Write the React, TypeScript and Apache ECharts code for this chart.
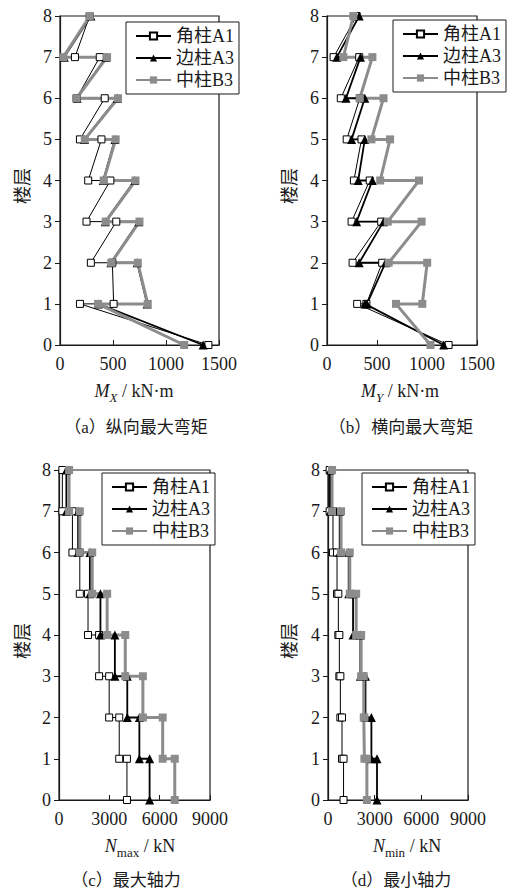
import React, { useEffect, useRef } from 'react';
import * as echarts from 'echarts';

// ---------- data ----------
const seriesNames = ['角柱A1', '边柱A3', '中柱B3'];
const floorTicks = [0, 1, 2, 3, 4, 5, 6, 7, 8];
const momentTicks = [0, 500, 1000, 1500];
const forceTicks = [0, 3000, 6000, 9000];

// moment polylines: floor of every point, in drawing order
const momentFloors = [8, 7, 7, 6, 6, 5, 5, 4, 4, 3, 3, 2, 2, 1, 1, 0];
// (a) M_X, kN·m
const mxA1 = [280, 141, 375, 156, 422, 188, 391, 266, 475, 250, 531, 291, 494, 506, 188, 1400];
const mxA3 = [292, 40, 436, 162, 540, 232, 518, 408, 706, 427, 744, 480, 728, 822, 362, 1350];
const mxB3 = [281, 31, 444, 156, 547, 234, 525, 412, 712, 431, 750, 484, 734, 828, 359, 1172];
// (b) M_Y, kN·m
const myA1 = [296, 66, 322, 138, 328, 197, 345, 269, 427, 246, 542, 256, 552, 394, 302, 1216];
const myA3 = [322, 99, 335, 190, 378, 246, 378, 312, 454, 296, 565, 322, 585, 400, 380, 1167];
const myB3 = [263, 164, 454, 328, 565, 444, 631, 532, 920, 608, 946, 617, 1002, 953, 690, 1035];

// axial force per storey (storey 8 down to storey 1), kN
const storeys = [8, 7, 6, 5, 4, 3, 2, 1];
const nmaxA1 = [200, 800, 1240, 1730, 2390, 2990, 3590, 4050];
const nmaxA3 = [440, 1140, 1840, 2470, 3330, 4070, 4790, 5400];
const nmaxB3 = [600, 1240, 1980, 2870, 3950, 5000, 6180, 6900];
const nminA1 = [105, 320, 580, 665, 730, 795, 900, 1000];
const nminA3 = [150, 750, 1330, 1610, 2080, 2410, 2790, 3150];
const nminB3 = [260, 840, 1400, 1810, 2130, 2300, 2340, 2500];

// ---------- helpers ----------
const SERIF = '"Liberation Serif", "Times New Roman", serif';
const MIX = '"Liberation Serif", "Noto Sans CJK SC", serif';
const CJK = '"Noto Sans CJK SC", sans-serif';
const GRAY = '#8c8c8c';
const INK = '#1a1a1a';

const momentPairs = (vals: number[]) => vals.map((v, i) => [v, momentFloors[i]]);
const stepPairs = (vals: number[]) => {
  const out: number[][] = [];
  vals.forEach((v, i) => {
    out.push([v, storeys[i]]);
    out.push([v, storeys[i] - 1]);
  });
  return out;
};

const styles = [
  {
    symbol: 'rect', symbolSize: 7,
    itemStyle: { color: '#fff', borderColor: '#000', borderWidth: 1 },
    lineStyle: { color: '#000', width: 1 },
  },
  {
    symbol: 'triangle', symbolSize: 9,
    itemStyle: { color: '#000' },
    lineStyle: { color: '#000', width: 1.8 },
  },
  {
    symbol: 'rect', symbolSize: 8,
    itemStyle: { color: GRAY },
    lineStyle: { color: GRAY, width: 3 },
  },
];

const panels = [
  { grid: { left: 60, top: 16, width: 159, height: 329 }, ticks: momentTicks, data: [mxA1, mxA3, mxB3].map(momentPairs), legend: { left: 126, top: 22 } },
  { grid: { left: 327, top: 16, width: 150, height: 329 }, ticks: momentTicks, data: [myA1, myA3, myB3].map(momentPairs), legend: { left: 393, top: 20 } },
  { grid: { left: 59, top: 470, width: 151, height: 330 }, ticks: forceTicks, data: [nmaxA1, nmaxA3, nmaxB3].map(stepPairs), legend: { left: 102, top: 473 } },
  { grid: { left: 328, top: 470, width: 140, height: 330 }, ticks: forceTicks, data: [nminA1, nminA3, nminB3].map(stepPairs), legend: { left: 362, top: 473 } },
];

const axisName = (x: number, y: number, main: string, sub: string, subItalic: boolean, unit: string) => ({
  type: 'text', x, y, silent: true,
  style: {
    text: `{i|${main}}{s|${sub}}{n| / ${unit}}`,
    align: 'center', verticalAlign: 'middle', fill: INK,
    fontSize: 18, fontFamily: SERIF,
    rich: {
      i: { fontFamily: SERIF, fontStyle: 'italic', fontSize: 18, lineHeight: 26, fill: INK },
      s: { fontFamily: SERIF, fontStyle: subItalic ? 'italic' : 'normal', fontSize: 13, lineHeight: 10, verticalAlign: 'bottom', fill: INK },
      n: { fontFamily: SERIF, fontSize: 18, lineHeight: 26, fill: INK },
    },
  },
});

const plainText = (x: number, y: number, text: string, size: number, rot = 0, family = MIX) => ({
  type: 'text', x, y, rotation: rot, silent: true,
  style: { text, align: 'center', verticalAlign: 'middle', fill: INK, fontSize: size, fontFamily: family },
});

export default function App() {
  const ref = useRef<HTMLDivElement>(null);
  useEffect(() => {
    if (!ref.current) return;
    const chart = echarts.init(ref.current, null, { renderer: 'svg' });
    const option: any = {
      animation: false,
      backgroundColor: '#fff',
      grid: panels.map((p) => ({ ...p.grid, show: true, borderColor: INK, borderWidth: 1.2, backgroundColor: 'transparent' })),
      xAxis: panels.map((p, i) => ({
        type: 'value', gridIndex: i,
        min: p.ticks[0], max: p.ticks[p.ticks.length - 1], interval: p.ticks[1] - p.ticks[0],
        axisLine: { show: true, lineStyle: { color: INK, width: 1.2 } },
        axisTick: { show: true, inside: true, length: 5, lineStyle: { color: INK, width: 1 } },
        axisLabel: { fontSize: 18, color: INK, fontFamily: SERIF, margin: 10, formatter: (v: number) => String(v) },
        splitLine: { show: false },
      })),
      yAxis: panels.map((p, i) => ({
        type: 'value', gridIndex: i,
        min: floorTicks[0], max: floorTicks[floorTicks.length - 1], interval: floorTicks[1] - floorTicks[0],
        axisLine: { show: true, lineStyle: { color: INK, width: 1.2 } },
        axisTick: { show: true, inside: false, length: 5, lineStyle: { color: INK, width: 1 } },
        axisLabel: { fontSize: 18, color: INK, fontFamily: SERIF, margin: 8, formatter: (v: number) => String(v) },
        splitLine: { show: false },
      })),
      legend: panels.map((p) => ({
        data: seriesNames,
        orient: 'vertical',
        left: p.legend.left, top: p.legend.top,
        backgroundColor: '#fff', borderColor: INK, borderWidth: 1,
        padding: [5, 5, 5, 9], itemGap: 4, itemWidth: 35, itemHeight: 9,
        selectedMode: false,
        textStyle: { fontSize: 18, color: INK, fontFamily: MIX },
      })),
      series: panels.flatMap((p, i) =>
        p.data.map((d, k) => ({
          type: 'line', name: seriesNames[k],
          xAxisIndex: i, yAxisIndex: i,
          data: d, showAllSymbol: true, silent: true,
          ...styles[k],
        }))
      ),
      graphic: [
        axisName(134, 391, 'M', 'X', true, 'kN·m'),
        axisName(400, 391, 'M', 'Y', true, 'kN·m'),
        axisName(140, 846, 'N', 'max', false, 'kN'),
        axisName(407, 846, 'N', 'min', false, 'kN'),
        plainText(136, 427, '（a）纵向最大弯矩', 17),
        plainText(401, 427, '（b）横向最大弯矩', 17),
        plainText(126, 880, '（c）最大轴力', 17),
        plainText(396, 880, '（d）最小轴力', 17),
        plainText(21, 186, '楼层', 18, Math.PI / 2, CJK),
        plainText(288, 186, '楼层', 18, Math.PI / 2, CJK),
        plainText(21, 641, '楼层', 18, Math.PI / 2, CJK),
        plainText(288, 641, '楼层', 18, Math.PI / 2, CJK),
      ],
    };
    chart.setOption(option);
    return () => chart.dispose();
  }, []);
  return <div ref={ref} style={{ position: 'fixed', left: 0, top: 0, width: 519, height: 890 }} />;
}
